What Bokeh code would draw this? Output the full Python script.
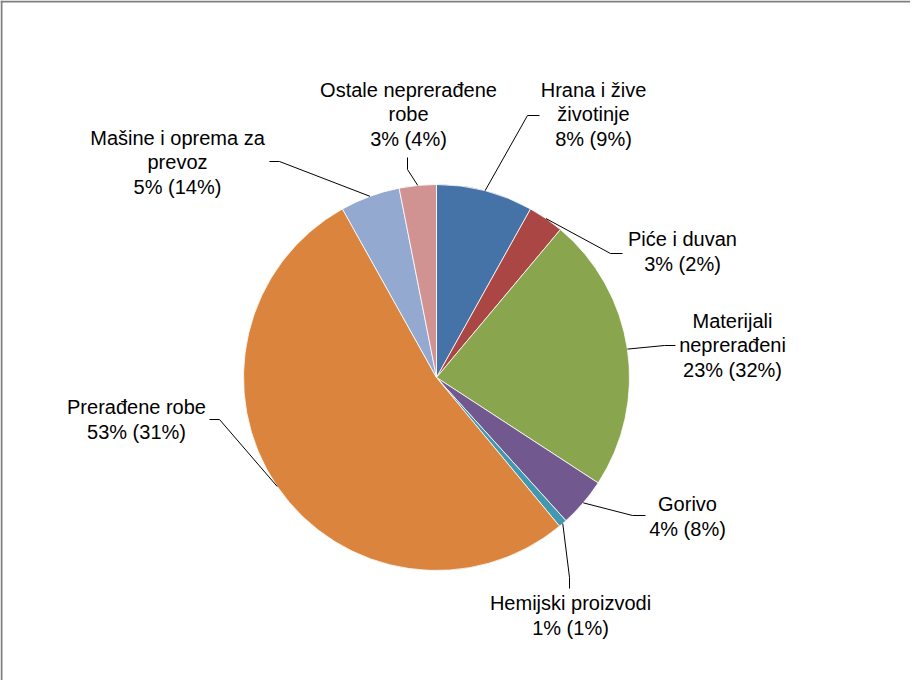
import math
from bokeh.plotting import figure
from bokeh.models import Range1d, Span, ColumnDataSource
from bokeh.core.properties import value
from bokeh.embed import file_html
from bokeh.resources import INLINE

# ---- data ----
categories = ["Hrana i žive\nživotinje", "Piće i duvan", "Materijali\nneprerađeni", "Gorivo",
              "Hemijski proizvodi", "Prerađene robe", "Mašine i oprema za\nprevoz",
              "Ostale neprerađene\nrobe"]
shares = [8.1, 3.0, 23.1, 4.1, 0.7, 52.9, 5.0, 3.1]
other_shares = [9, 2, 32, 8, 1, 31, 14, 4]
colors = ["#4572A7", "#AA4643", "#89A54E", "#71588F", "#4198AF", "#DB843D", "#93A9CF", "#D19392"]

# ---- layout (page pixel coordinates, y down) ----
W, H = 910, 680
def Y(sy):
    return 688 - sy

cx, cy, R = 444, Y(385), 193
label_pos = [(601, 122), (690, 259), (740, 353), (695, 524), (578, 623), (144, 427), (185, 170), (416, 122)]
elbow_pos = [(535, 123), (618, 261), (672, 353), (640, 523), (577, 585), (227, 427), (287, 169), (415, 177)]
end_pos = [(547, 123), (630, 261), (683, 353), (653, 523), (577, 596), (217, 427), (277, 169), (415, 165)]

p = figure(width=W, height=H, output_backend="svg", toolbar_location=None,
           x_range=Range1d(8, 8 + W), y_range=Range1d(0, H),
           min_border=0, outline_line_color=None)
p.axis.visible = False
p.grid.visible = False
p.background_fill_color = "white"
p.border_fill_color = "white"

total = sum(shares)
starts, ends, mids = [], [], []
cum = 0.0
for s in shares:
    a0 = math.pi / 2 - 2 * math.pi * cum / total
    cum += s
    a1 = math.pi / 2 - 2 * math.pi * cum / total
    starts.append(a0)
    ends.append(a1)
    mids.append((a0 + a1) / 2)

src = ColumnDataSource(dict(start=starts, end=ends, color=colors))
p.wedge(x=cx, y=cy, radius=R, start_angle="start", end_angle="end", direction="clock",
        fill_color="color", line_color="white", line_width=0.8, source=src)

# leader lines
xs, ys = [], []
for m, e, t in zip(mids, elbow_pos, end_pos):
    sx = cx + R * math.cos(m)
    sy = cy + R * math.sin(m)
    xs.append([sx, e[0], t[0]])
    ys.append([sy, Y(e[1]), Y(t[1])])
p.multi_line(xs=xs, ys=ys, line_color="black", line_width=1)

texts = [f"{c}\n{round(s)}% ({o}%)" for c, s, o in zip(categories, shares, other_shares)]
p.text(x=[lp[0] for lp in label_pos], y=[Y(lp[1]) for lp in label_pos], text=texts,
       text_font=value("Liberation Sans"), text_font_size="20px", text_color="black",
       text_align="center", text_baseline="middle", text_line_height=1.13)

# chart area border (top and left visible)
p.add_layout(Span(location=Y(9), dimension="width", line_color="#808080", line_width=2))
p.add_layout(Span(location=9, dimension="height", line_color="#808080", line_width=2))

open("out.html", "w").write(file_html(p, INLINE))
